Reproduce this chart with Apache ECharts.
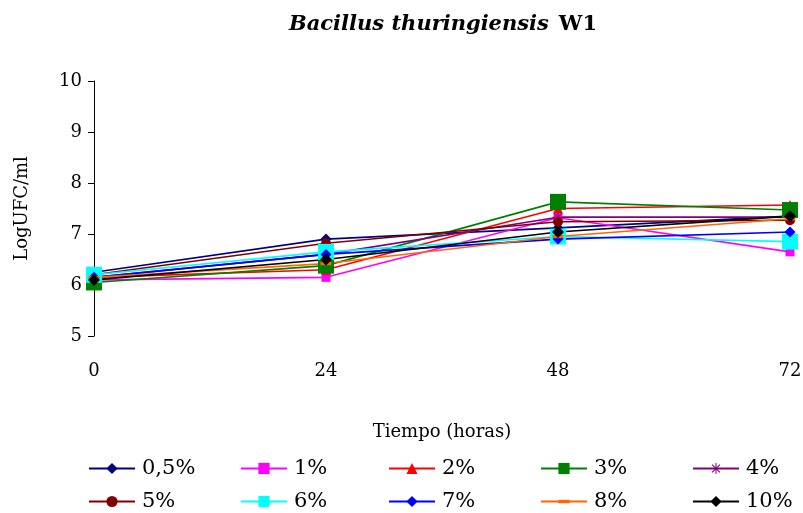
<!DOCTYPE html>
<html>
<head>
<meta charset="utf-8">
<script src="https://cdn.jsdelivr.net/npm/echarts@6/dist/echarts.min.js"></script>
<style>
  html, body { margin: 0; padding: 0; background: #fff; }
  #chart { width: 803px; height: 513px; }
</style>
</head>
<body>
<div id="chart"></div>
<script>
// Sampling times (hours)
const hours = [0, 24, 48, 72];

// Log CFU/ml per concentration
const c05 = [6.25, 6.90, 7.12, 7.35];
const c1  = [6.10, 6.15, 7.32, 6.65];
const c2  = [6.15, 6.30, 7.50, 7.57];
const c3  = [6.05, 6.38, 7.63, 7.47];
const c4  = [6.15, 6.60, 7.33, 7.33];
const c5  = [6.20, 6.82, 7.24, 7.27];
const c6  = [6.20, 6.65, 6.95, 6.85];
const c7  = [6.15, 6.60, 6.90, 7.04];
const c8  = [6.15, 6.42, 6.95, 7.30];
const c10 = [6.10, 6.50, 7.04, 7.35];

const seriesNames = ['0,5%', '1%', '2%', '3%', '4%', '5%', '6%', '7%', '8%', '10%'];
const seriesValues = [c05, c1, c2, c3, c4, c5, c6, c7, c8, c10];
const yTicks = [5, 6, 7, 8, 9, 10];

const FONT = 'DejaVu Serif';
// Six-armed asterisk marker
const asterisk = 'path://M9,0h2v8.6l6.1-6.1l1.4,1.4L12.4,10h8.6v2h-8.6l6.1,6.1l-1.4,1.4L11,13.4v8.6h-2v-8.6l-6.1,6.1l-1.4-1.4L7.6,12H-1v-2h8.6L1.5,3.9l1.4-1.4L9,8.6z';
// Short flat dash, padded to a square box so it keeps its shape
const dash = 'path://M0,0M0,7h20v6h-20zM20,20';

const styles = [
  { color: '#000080', symbol: 'diamond',  size: 11 },
  { color: '#FF00FF', symbol: 'rect',     size: 9 },
  { color: '#FF0000', symbol: 'triangle', size: 10 },
  { color: '#008000', symbol: 'rect',     size: 16 },
  { color: '#800080', symbol: asterisk,   size: 11 },
  { color: '#800000', symbol: 'circle',   size: 10 },
  { color: '#00FFFF', symbol: 'rect',     size: 16 },
  { color: '#0000FF', symbol: 'diamond',  size: 11 },
  { color: '#FF6600', symbol: dash,       size: 11 },
  { color: '#000000', symbol: 'diamond',  size: 12 }
];

const series = seriesNames.map((name, i) => ({
  name: name,
  type: 'line',
  data: hours.map((h, k) => [h, seriesValues[i][k]]),
  symbol: styles[i].symbol,
  symbolSize: styles[i].size,
  showAllSymbol: true,
  lineStyle: { color: styles[i].color, width: 1.6 },
  itemStyle: { color: styles[i].color, borderWidth: 0 },
  emphasis: { disabled: true },
  animation: false
}));

// One legend per entry so the columns line up in a fixed grid
const legendCols = [88, 240, 388, 540, 692];
const legendRows = [458, 491];
const legends = seriesNames.map((name, i) => ({
  data: [name],
  left: legendCols[i % 5],
  top: legendRows[Math.floor(i / 5)],
  padding: 0,
  itemWidth: 46,
  itemHeight: 14,
  itemGap: 0,
  textStyle: { fontFamily: FONT, fontSize: 21, color: '#000', padding: [0, 0, 0, 2] },
  selectedMode: false
}));

const chart = echarts.init(document.getElementById('chart'), null, { renderer: 'canvas' });
chart.setOption({
  backgroundColor: '#fff',
  title: {
    text: '{a|Bacillus thuringiensis}  {b|W1}',
    left: 438,
    textAlign: 'center',
    top: 9,
    textStyle: {
      rich: {
        a: { fontFamily: FONT, fontSize: 21, fontStyle: 'italic', fontWeight: 'bold', color: '#000' },
        b: { fontFamily: FONT, fontSize: 21, fontWeight: 'bold', color: '#000' }
      }
    }
  },
  legend: legends,
  grid: {
    left: 94, right: 13, top: 81, bottom: 177,
    containLabel: false,
    outerBoundsMode: 'none'
  },
  xAxis: {
    type: 'value',
    min: 0, max: 72, interval: 24,
    name: 'Tiempo (horas)',
    nameLocation: 'middle',
    nameGap: 87,
    nameTextStyle: { fontFamily: FONT, fontSize: 18, color: '#000' },
    axisLine: { show: false },
    axisTick: { show: false },
    splitLine: { show: false },
    axisLabel: { fontFamily: FONT, fontSize: 18, color: '#000', margin: 26 }
  },
  yAxis: {
    type: 'value',
    min: yTicks[0], max: yTicks[yTicks.length - 1], interval: 1,
    name: 'LogUFC/ml',
    nameLocation: 'middle',
    nameGap: 63,
    nameTextStyle: { fontFamily: FONT, fontSize: 18, color: '#000' },
    axisLine: { show: true, lineStyle: { color: '#000', width: 1 } },
    axisTick: { show: true, length: 6, lineStyle: { color: '#000' } },
    splitLine: { show: false },
    axisLabel: { fontFamily: FONT, fontSize: 18, color: '#000', margin: 12 }
  },
  series: series
});
</script>
</body>
</html>
